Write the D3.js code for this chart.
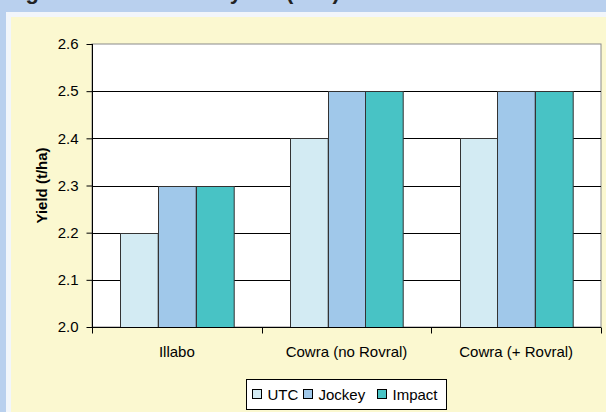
<!DOCTYPE html>
<html>
<head>
<meta charset="utf-8">
<script src="https://cdn.jsdelivr.net/npm/d3@7"></script>
<style>
  body { margin: 0; background: #b9d0ee; }
  svg { display: block; font-family: "Liberation Sans", Arial, sans-serif; }
</style>
</head>
<body>
<svg id="chart"></svg>
<script>
const categories = ["Illabo", "Cowra (no Rovral)", "Cowra (+ Rovral)"];
const seriesNames = ["UTC", "Jockey", "Impact"];
const utc = [2.2, 2.4, 2.4];
const jockey = [2.3, 2.5, 2.5];
const impact = [2.3, 2.5, 2.5];
const yTicks = [2.0, 2.1, 2.2, 2.3, 2.4, 2.5, 2.6];
const colors = ["#d3ebf3", "#a0c8ea", "#48c3c5"];

const width = 606;
const height = 412;

const svg = d3.select("#chart")
    .attr("width", width)
    .attr("height", height);

// panel backgrounds
svg.append("rect").attr("x", 0).attr("y", 0).attr("width", width).attr("height", height).attr("fill", "#b9d0ee");
svg.append("rect").attr("x", 6).attr("y", 12).attr("width", width - 6).attr("height", height - 12).attr("fill", "#f2f6fb");
svg.append("rect").attr("x", 11).attr("y", 17).attr("width", width - 11).attr("height", height - 17).attr("fill", "#fbf8d0");

// title, cut off at the top like in the source image
svg.append("text")
    .attr("x", 6)
    .attr("y", -1)
    .style("font-size", "22px")
    .style("font-weight", "bold")
    .attr("fill", "#222")
    .text("Figure 1. Canola trial yield (t/ha)");

const margin = {left: 92, right: 5, top: 44, bottom: 85};
const plotW = width - margin.left - margin.right;
const plotH = height - margin.top - margin.bottom;

const x = d3.scaleBand()
    .domain(categories)
    .range([margin.left, margin.left + plotW]);

const inner = d3.scaleBand()
    .domain(seriesNames)
    .range([0, x.bandwidth()])
    .paddingInner(0)
    .paddingOuter(0.75);

const y = d3.scaleLinear()
    .domain([2.0, 2.6])
    .range([margin.top + plotH, margin.top]);

svg.append("rect")
    .attr("x", margin.left)
    .attr("y", margin.top)
    .attr("width", plotW)
    .attr("height", plotH)
    .attr("fill", "#fff")
    .attr("stroke", "#8a8a8a");

// gridlines
svg.append("g")
    .selectAll("line")
    .data(yTicks.slice(1, -1))
    .enter()
    .append("line")
    .attr("x1", margin.left)
    .attr("x2", margin.left + plotW)
    .attr("y1", d => Math.round(y(d)) + 0.5)
    .attr("y2", d => Math.round(y(d)) + 0.5)
    .attr("stroke", "#000");

const series = [utc, jockey, impact];
const table = [];
categories.forEach((c, i) => {
    seriesNames.forEach((s, j) => {
        table.push({cat: c, name: s, value: series[j][i], color: colors[j]});
    });
});

svg.append("g")
    .selectAll("rect")
    .data(table)
    .enter()
    .append("rect")
    .attr("x", d => Math.round(x(d.cat) + inner(d.name)) + 0.5)
    .attr("y", d => Math.round(y(d.value)) + 0.5)
    .attr("width", inner.bandwidth())
    .attr("height", d => Math.round(y(2.0)) - Math.round(y(d.value)))
    .attr("fill", d => d.color)
    .attr("stroke", "#333")
    .attr("stroke-width", 1);

// y axis
const yAxis = d3.axisLeft(y)
    .tickValues(yTicks)
    .tickFormat(d3.format(".1f"))
    .tickSize(6)
    .tickPadding(8);

const yg = svg.append("g")
    .attr("transform", `translate(${margin.left + 0.5},0)`)
    .call(yAxis);
yg.selectAll("text").style("font-size", "15px").attr("fill", "#000");
yg.selectAll("line").attr("stroke", "#000");
yg.select(".domain").attr("stroke", "#000").attr("d", `M0,${margin.top}V${margin.top + plotH}`);

// x axis
const xAxis = d3.axisBottom(x)
    .tickSize(0)
    .tickPadding(19);

const xg = svg.append("g")
    .attr("transform", `translate(0,${Math.round(y(2.0)) + 0.5})`)
    .call(xAxis);
xg.selectAll("text").style("font-size", "15px").attr("fill", "#000");
xg.select(".domain").attr("stroke", "#000").attr("d", `M${margin.left},0H${margin.left + plotW}`);

// x tick marks at category boundaries
const bounds = categories.map(c => x(c)).concat([x(categories[categories.length - 1]) + x.bandwidth()]);
xg.selectAll(".bound")
    .data(bounds)
    .enter()
    .append("line")
    .attr("x1", d => Math.round(d) + 0.5)
    .attr("x2", d => Math.round(d) + 0.5)
    .attr("y1", 0)
    .attr("y2", 6)
    .attr("stroke", "#000");

// y axis title
svg.append("text")
    .attr("transform", `translate(47,${margin.top + plotH / 2}) rotate(-90)`)
    .attr("text-anchor", "middle")
    .style("font-size", "15px")
    .style("font-weight", "bold")
    .text("Yield (t/ha)");

// legend
const legend = svg.append("g").attr("transform", "translate(246.5,379.5)");
legend.append("rect")
    .attr("width", 200)
    .attr("height", 30)
    .attr("fill", "#fff")
    .attr("stroke", "#000");

const legendX = [6, 57, 131];
seriesNames.forEach((s, i) => {
    const g = legend.append("g").attr("transform", `translate(${legendX[i]},0)`);
    g.append("rect")
        .attr("x", 0)
        .attr("y", 10)
        .attr("width", 9)
        .attr("height", 9)
        .attr("fill", colors[i])
        .attr("stroke", "#000");
    g.append("text")
        .attr("x", 15)
        .attr("y", 20.5)
        .style("font-size", "15px")
        .text(s);
});
</script>
</body>
</html>
